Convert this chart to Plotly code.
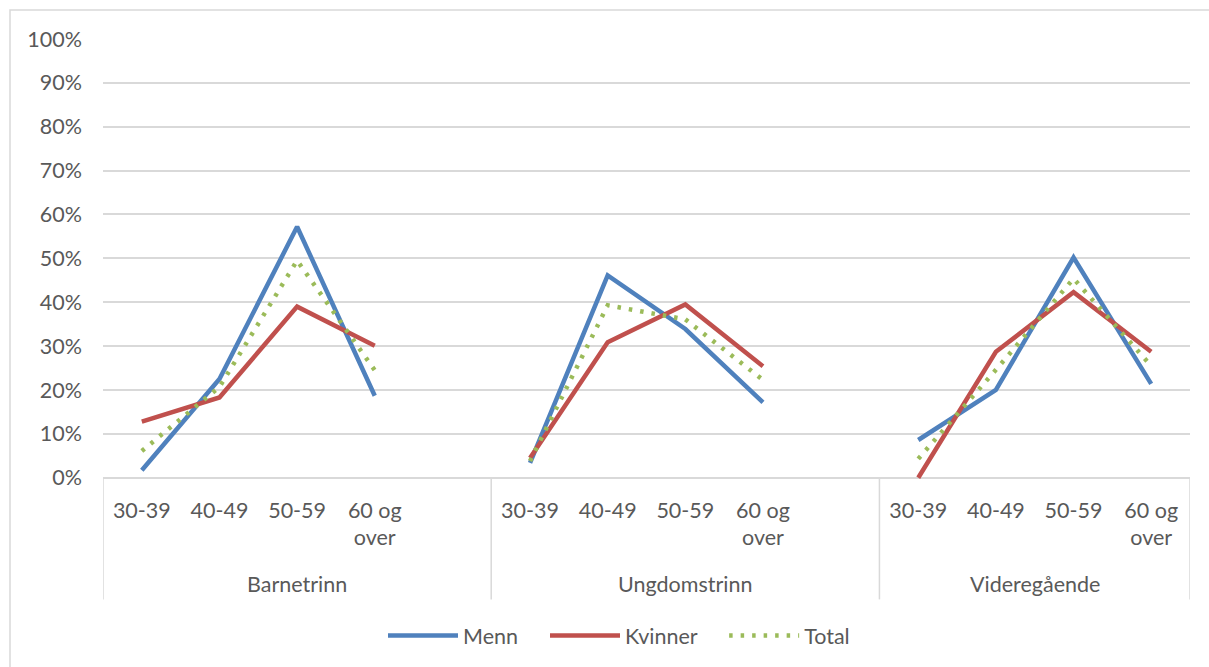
import plotly.graph_objects as go

# ---- data ----
groups = ["Barnetrinn", "Ungdomstrinn", "Videregående"]
categories = ["30-39", "40-49", "50-59", "60 og<br>over"]
series_names = ["Menn", "Kvinner", "Total"]
menn = [[1.7, 22.5, 57.2, 18.7], [3.4, 46.1, 33.9, 17.2], [8.6, 20.0, 50.2, 21.4]]
kvinner = [[12.8, 18.3, 39.0, 30.1], [4.5, 30.9, 39.5, 25.4], [0.0, 28.7, 42.3, 28.7]]
total = [[6.1, 20.7, 49.5, 24.5], [3.8, 39.3, 36.1, 22.3], [4.3, 24.6, 45.4, 25.5]]
y_ticks = [0, 10, 20, 30, 40, 50, 60, 70, 80, 90, 100]

W, H = 1209, 667
ML, MR, MT = 103, 19, 39
Y_MIN, Y_MAX = -1.2, 100
PX_PER_UNIT = 4.4
PLOT_H = (Y_MAX - Y_MIN) * PX_PER_UNIT
MB = H - MT - PLOT_H
PLOT_W = W - ML - MR
BOTTOM_PX = MT + PLOT_H

SLOT = 5  # slots per group (4 categories + spacer)


def px_x(px):
    return (px - ML) / PLOT_W


def px_y(py):
    return (BOTTOM_PX - py) / PLOT_H


def pos(g, i):
    return g * SLOT + i


def build(series):
    xs, ys = [], []
    for g, vals in enumerate(series):
        for i, v in enumerate(vals):
            xs.append(pos(g, i))
            ys.append(v)
        xs.append(None)
        ys.append(None)
    return xs, ys


GRAY = "#595959"
GRID = "#D9D9D9"
FONT = "Lato"
FS = 21.5
PAD = "\u00a0" * 4

fig = go.Figure()
styles = [("#4F81BD", "solid"), ("#C0504D", "solid"), ("#9BBB59", "3.5px,8px")]
for k, (name, series) in enumerate(zip(series_names, [menn, kvinner, total])):
    color, dash = styles[k]
    xs, ys = build(series)
    label = name + (PAD if k < len(series_names) - 1 else "")
    fig.add_trace(go.Scatter(
        x=xs, y=ys, mode="lines", name=label, connectgaps=False,
        line=dict(color=color, width=4.5, dash=dash),
        hoverinfo="skip",
    ))

tickvals = [pos(g, i) for g in range(len(groups)) for i in range(len(categories))]
ticktext = [c for g in range(len(groups)) for c in categories]
n_slots = SLOT * (len(groups) - 1) + len(categories)

shapes = []
# group dividers
div_x = [-0.5] + [g * SLOT - 0.5 for g in range(1, len(groups))] + [n_slots - 0.5]
for dx in div_x:
    shapes.append(dict(type="line", xref="x", yref="paper", x0=dx, x1=dx,
                       y0=px_y(BOTTOM_PX - (0 - Y_MIN) * PX_PER_UNIT), y1=px_y(601),
                       line=dict(color=GRID, width=1.5)))
# outer chart border
shapes.append(dict(type="rect", xref="paper", yref="paper",
                   x0=px_x(10), x1=px_x(1230), y0=px_y(690), y1=px_y(10),
                   line=dict(color=GRID, width=1.5), fillcolor="rgba(0,0,0,0)"))

annotations = []
group_start = [g * SLOT - 0.5 for g in range(len(groups))]
group_end = group_start[1:] + [n_slots - 0.5]
for g, name in enumerate(groups):
    annotations.append(dict(x=(group_start[g] + group_end[g]) / 2, xref="x",
                            y=px_y(586), yref="paper", text=name, showarrow=False,
                            font=dict(family=FONT, size=FS, color=GRAY),
                            xanchor="center", yanchor="middle"))

fig.update_layout(
    width=W, height=H,
    margin=dict(l=ML, r=MR, t=MT, b=MB, pad=0),
    paper_bgcolor="white", plot_bgcolor="white",
    font=dict(family=FONT, size=FS, color=GRAY),
    showlegend=True,
    legend=dict(orientation="h", x=px_x(619), xanchor="center", y=px_y(636),
                yanchor="middle", font=dict(family=FONT, size=FS, color=GRAY),
                itemwidth=70, traceorder="normal", bgcolor="rgba(0,0,0,0)"),
    shapes=shapes,
    annotations=annotations,
    xaxis=dict(range=[-0.5, n_slots - 0.5], tickmode="array", tickvals=tickvals,
               ticktext=ticktext, showgrid=False, zeroline=False, showline=False,
               ticks="", ticklabelstandoff=12, tickfont=dict(family=FONT, size=FS, color=GRAY),
               fixedrange=True),
    yaxis=dict(range=[Y_MIN, Y_MAX], tickmode="array", tickvals=y_ticks,
               ticktext=[f"{v}%" for v in y_ticks], showgrid=True, gridcolor=GRID,
               gridwidth=1.5, zeroline=True, zerolinecolor=GRID, zerolinewidth=1.5,
               showline=False, ticks="", ticklabelstandoff=20,
               tickfont=dict(family=FONT, size=FS, color=GRAY), fixedrange=True),
)

fig.write_html("out.html")
